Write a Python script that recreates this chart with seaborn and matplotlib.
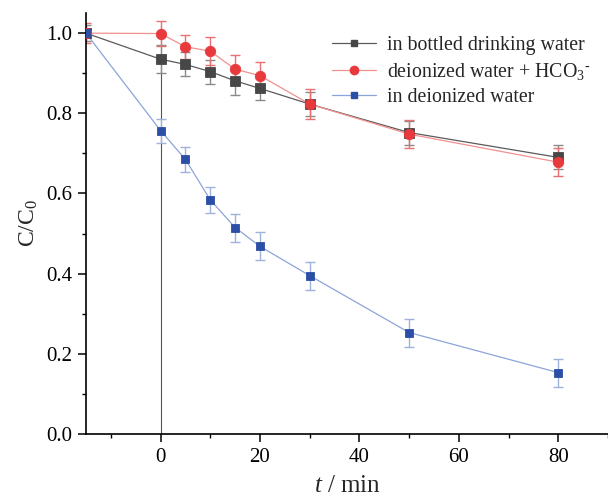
import numpy as np
import pandas as pd
import matplotlib
matplotlib.use("Agg")
import matplotlib.pyplot as plt
import seaborn as sns
from matplotlib.lines import Line2D
from matplotlib.ticker import MultipleLocator, FormatStrFormatter

time_min = [-15, 0, 5, 10, 15, 20, 30, 50, 80]
bottled = [1.0, 0.935, 0.922, 0.904, 0.881, 0.862, 0.823, 0.752, 0.690]
bottled_err = [0.02, 0.035, 0.03, 0.03, 0.035, 0.03, 0.03, 0.03, 0.03]
hco3 = [1.0, 0.999, 0.966, 0.955, 0.910, 0.894, 0.823, 0.748, 0.678]
hco3_err = [0.025, 0.032, 0.03, 0.035, 0.035, 0.034, 0.037, 0.035, 0.035]
deion = [1.0, 0.757, 0.685, 0.584, 0.515, 0.468, 0.395, 0.253, 0.153]
deion_err = [0.01, 0.03, 0.032, 0.032, 0.035, 0.035, 0.035, 0.035, 0.035]

labels = ["in bottled drinking water",
          r"deionized water + HCO$_3$$^{\text{-}}$",
          "in deionized water"]

sns.set_style("ticks")
plt.rcParams["font.family"] = ["Liberation Serif", "DejaVu Serif"]
plt.rcParams["mathtext.fontset"] = "custom"
plt.rcParams["mathtext.rm"] = "Liberation Serif"
plt.rcParams["mathtext.it"] = "Liberation Serif:italic"

fig = plt.figure(figsize=(6.08, 5.04), dpi=100)
ax = fig.add_axes([0.1414, 0.139, 0.8586, 0.835])

# (values, errors, marker colour, line colour, errorbar colour, marker, size)
series = [
    (bottled, bottled_err, "#474747", "#5a5a5a", "#8a8a8a", "s", 6.5),
    (hco3, hco3_err, "#e8393d", "#f29090", "#e87070", "o", 7.5),
    (deion, deion_err, "#2b4ea6", "#8da4da", "#9fb2de", "s", 6.2),
]

handles = []
for (vals, errs, mcol, lcol, ecol, mk, ms), lab in zip(series, labels):
    df = pd.DataFrame({"t": time_min, "c": vals})
    ax.errorbar(time_min, vals, yerr=errs, fmt="none", ecolor=ecol,
                elinewidth=1.0, capsize=3.5, capthick=1.0, zorder=2)
    sns.lineplot(data=df, x="t", y="c", ax=ax, color=lcol, linewidth=0.9,
                 zorder=3)
    ax.plot(time_min, vals, linestyle="none", marker=mk, markersize=ms,
            markerfacecolor=mcol, markeredgecolor=mcol, markeredgewidth=0.6,
            zorder=4)
    handles.append(Line2D([], [], color=lcol, linewidth=0.9, marker=mk,
                          markersize=ms - 1.5, markerfacecolor=mcol,
                          markeredgecolor=mcol))

ax.axvline(0, ymax=1.02 / 1.05, color="#555555", linewidth=0.8, zorder=1)

ax.set_xlim(-15, 90)
ax.set_ylim(0, 1.05)
ax.xaxis.set_major_locator(MultipleLocator(20))
ax.xaxis.set_minor_locator(MultipleLocator(10))
ax.yaxis.set_major_locator(MultipleLocator(0.2))
ax.yaxis.set_minor_locator(MultipleLocator(0.1))
ax.yaxis.set_major_formatter(FormatStrFormatter("%.1f"))

for side in ["top", "right"]:
    ax.spines[side].set_visible(False)
for side in ["left", "bottom"]:
    ax.spines[side].set_linewidth(1.2)
    ax.spines[side].set_color("black")

ax.tick_params(which="major", direction="out", length=6, width=1.1,
               labelsize=15, colors="black", pad=4)
ax.tick_params(which="minor", direction="out", length=3, width=1.0,
               colors="black")

ax.set_xlabel(r"$\mathit{t}$ / min", fontsize=18, labelpad=6)
ax.set_ylabel(r"C/C$_0$", fontsize=17, labelpad=4)

ax.legend(handles, labels, loc="upper left", bbox_to_anchor=(0.533, 0.945),
          bbox_transform=fig.transFigure, frameon=False, fontsize=14.3,
          handlelength=2.2, handletextpad=0.55, labelspacing=0.32,
          borderaxespad=0)

fig.savefig("out.png", dpi=100)
